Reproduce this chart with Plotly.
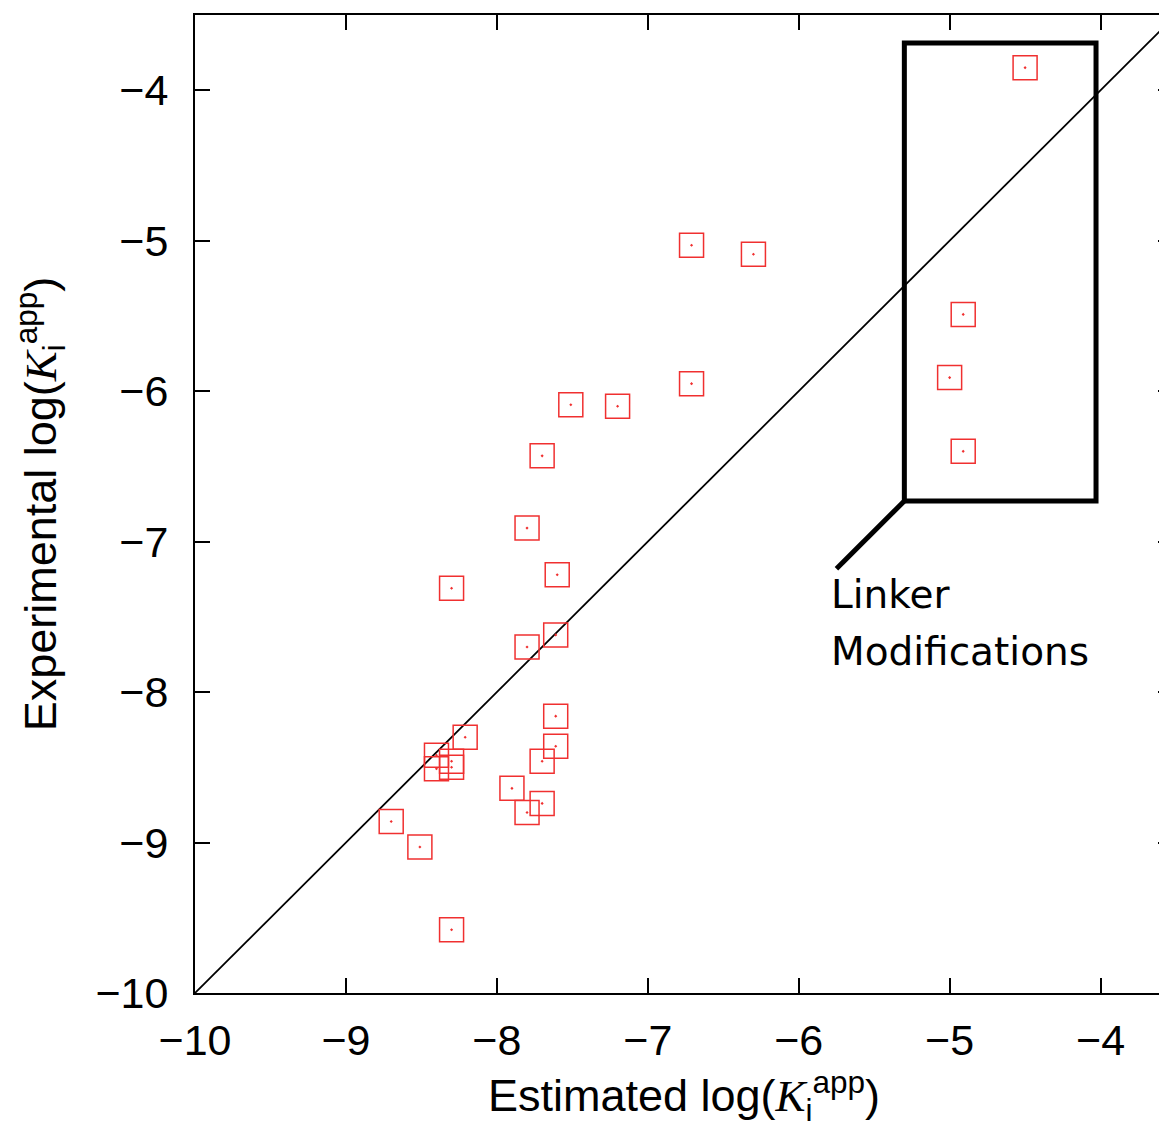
import plotly.graph_objects as go

# Estimated vs experimental log(Ki_app)
estimated = [-4.50, -6.71, -6.30, -4.91, -5.00, -6.71, -7.51, -7.20, -4.91, -7.70,
             -7.80, -8.30, -7.60, -7.61, -7.80, -7.61, -8.21, -7.61, -7.70,
             -8.40, -8.40, -8.30, -8.30, -7.90, -7.70, -7.80, -8.70, -8.51, -8.30]
experimental = [-3.85, -5.03, -5.09, -5.49, -5.91, -5.95, -6.09, -6.10, -6.40, -6.43,
                -6.91, -7.31, -7.22, -7.62, -7.70, -8.16, -8.30, -8.36, -8.46,
                -8.42, -8.51, -8.46, -8.50, -8.64, -8.74, -8.80, -8.86, -9.03, -9.58]

identity = [-10, -3.5]
x_ticks = [-10, -9, -8, -7, -6, -5, -4]
y_ticks = [-10, -9, -8, -7, -6, -5, -4]

box_x = [-5.30, -4.03]
box_y = [-6.73, -3.686]
leader_x = [-5.30, -5.75]
leader_y = [-6.73, -7.18]

TICK_FONT = dict(family="Liberation Sans, Arial, sans-serif", size=43, color="black")
TITLE_FONT = dict(family="Liberation Sans, Arial, sans-serif", size=45, color="black")
kexpr = ('log(<span style="font-family:Liberation Serif"><i>K</i></span>'
         '<sub>i</sub><sup>app</sup>)')

fig = go.Figure()
fig.add_trace(go.Scatter(x=identity, y=identity, mode="lines",
                         line=dict(color="black", width=1.8), showlegend=False,
                         hoverinfo="skip"))
fig.add_trace(go.Scatter(x=estimated, y=experimental, mode="markers",
                         marker=dict(symbol="square-open-dot", size=24,
                                     color="rgb(240,48,48)",
                                     line=dict(width=1.5, color="rgb(240,48,48)")),
                         showlegend=False))

fig.add_shape(type="rect", xref="x", yref="y", x0=box_x[0], x1=box_x[1],
              y0=box_y[0], y1=box_y[1], line=dict(color="black", width=5))
fig.add_shape(type="line", xref="x", yref="y", x0=leader_x[0], y0=leader_y[0],
              x1=leader_x[1], y1=leader_y[1], line=dict(color="black", width=5))

LABEL_FONT = dict(family="DejaVu Sans", size=39, color="black")
fig.add_annotation(x=-5.80, y=-7.19, xref="x", yref="y", xanchor="left", yanchor="top",
                   text="Linker", showarrow=False, align="left", font=LABEL_FONT)
fig.add_annotation(x=-5.80, y=-7.57, xref="x", yref="y", xanchor="left", yanchor="top",
                   text="Modifications", showarrow=False, align="left", font=LABEL_FONT)

axis_common = dict(showgrid=False, zeroline=False, showline=True, linecolor="black",
                   linewidth=2, mirror="ticks", ticks="inside", ticklen=15,
                   tickwidth=2, tickcolor="black", tickfont=TICK_FONT)

fig.update_xaxes(range=[-10, -3.52], tickvals=x_ticks,
                 ticktext=["\u2212" + str(abs(v)) for v in x_ticks],
                 ticklabelstandoff=8,
                 title=dict(text="Estimated " + kexpr, font=TITLE_FONT, standoff=16),
                 **axis_common)
fig.update_yaxes(range=[-10, -3.5], tickvals=y_ticks,
                 ticktext=["\u2212" + str(abs(v)) for v in y_ticks],
                 ticklabelstandoff=16,
                 title=dict(text="Experimental " + kexpr, font=TITLE_FONT, standoff=40),
                 **axis_common)

fig.update_layout(width=1167, height=1135, margin=dict(l=187, r=0, t=7, b=150),
                  plot_bgcolor="white", paper_bgcolor="white")

fig.write_html("out.html")
